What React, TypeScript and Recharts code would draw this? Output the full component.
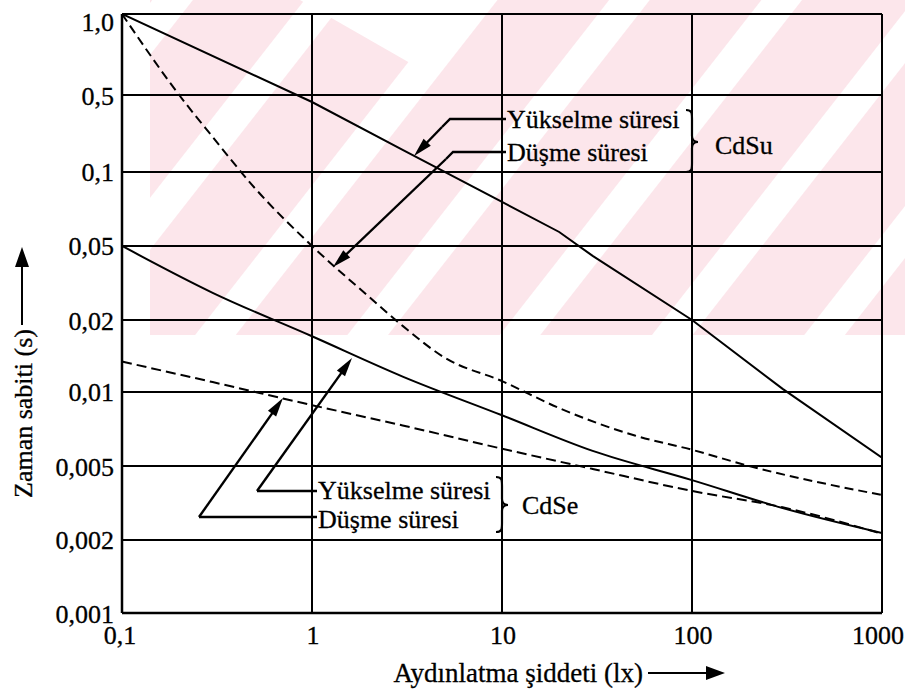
import React from "react";
import { LineChart, Line, XAxis, YAxis, CartesianGrid } from "recharts";

// ---- axis ticks ----
const xTicks = [0.1, 1, 10, 100, 1000];
const xTickLabels = ["0,1", "1", "10", "100", "1000"];
const yTickValues = [1.0, 0.5, 0.1, 0.05, 0.02, 0.01, 0.005, 0.002, 0.001];
const yTickLabels = ["1,0", "0,5", "0,1", "0,05", "0,02", "0,01", "0,005", "0,002", "0,001"];
// printed (schematic) position of each labelled value on the y axis, 0 = top, 8 = bottom
const yTickPositions = [0, 1.082, 2.11, 3.098, 4.087, 5.048, 6.037, 7.025, 8];

// ---- series (lux, seconds) ----
const cdsuRiseLux = [0.1, 1, 3, 10, 20, 30, 100, 300, 1000];
const cdsuRiseSec = [1.0, 0.432, 0.159, 0.0755, 0.057, 0.0442, 0.02, 0.0103, 0.0054];

const cdsuFallLux = [0.1, 0.2, 0.3, 0.5, 1, 2, 3, 5, 10, 20, 50, 100, 200, 1000];
const cdsuFallSec = [1.0, 0.5, 0.208, 0.086, 0.05, 0.0266, 0.0189, 0.0139, 0.0111, 0.0086, 0.00665, 0.00582, 0.005, 0.00349];

const cdseRiseLux = [0.1, 0.3, 1, 3, 10, 30, 100, 300, 1000];
const cdseRiseSec = [0.05, 0.028, 0.0171, 0.0116, 0.00804, 0.00576, 0.0042, 0.00297, 0.00218];

const cdseFallLux = [0.1, 0.3, 1, 3, 10, 30, 100, 300, 1000];
const cdseFallSec = [0.0134, 0.011, 0.00884, 0.00731, 0.00588, 0.00482, 0.00367, 0.003, 0.00216];

// Map a value onto the schematic y axis (piecewise logarithmic between labelled values).
function toAxisPos(v: number): number {
  for (let i = 0; i < yTickValues.length - 1; i++) {
    const a = yTickValues[i];
    const b = yTickValues[i + 1];
    if (v <= a && v >= b) {
      const f = Math.log(v / a) / Math.log(b / a);
      return yTickPositions[i] + f * (yTickPositions[i + 1] - yTickPositions[i]);
    }
  }
  return v > yTickValues[0] ? 0 : yTickPositions[yTickPositions.length - 1];
}

function build(lux: number[], sec: number[]) {
  return lux.map((l, i) => ({ lux: l, sec: sec[i], pos: toAxisPos(sec[i]) }));
}

const FONT = '"Liberation Serif", "Times New Roman", Times, serif';

const YTick = (props: any) => {
  const { x, y, payload } = props;
  const i = yTickPositions.indexOf(payload.value);
  return (
    <text x={x} y={y + (i === 0 ? 8 : 1)} textAnchor="end" dominantBaseline="central"
      fontFamily={FONT} fontSize={26} fill="#000" stroke="#000" strokeWidth={0.3}>
      {i >= 0 ? yTickLabels[i] : ""}
    </text>
  );
};

const XTick = (props: any) => {
  const { x, y, payload } = props;
  const i = xTicks.indexOf(payload.value);
  const shift = payload.value === 1000 ? -4 : payload.value === 0.1 ? -2 : 1;
  return (
    <text x={x + shift} y={y} dy="0.71em" textAnchor="middle"
      fontFamily={FONT} fontSize={26} fill="#000" stroke="#000" strokeWidth={0.3}>
      {i >= 0 ? xTickLabels[i] : ""}
    </text>
  );
};

function arrow(x0: number, y0: number, tx: number, ty: number, key: string) {
  const dx = tx - x0, dy = ty - y0;
  const len = Math.sqrt(dx * dx + dy * dy);
  const ux = dx / len, uy = dy / len;
  const L = 19, W = 10;
  const bx = tx - ux * L, by = ty - uy * L;
  const nx = -uy, ny = ux;
  return (
    <g key={key}>
      <line x1={x0} y1={y0} x2={bx + ux * 2} y2={by + uy * 2} stroke="#000" strokeWidth={2.4} />
      <polygon points={`${tx},${ty} ${bx + nx * W / 2},${by + ny * W / 2} ${bx - nx * W / 2},${by - ny * W / 2}`} fill="#000" />
    </g>
  );
}

function brace(x: number, y1: number, y2: number, ym: number, w: number) {
  const h = x + w * 0.5;
  const d = `M ${x} ${y1} C ${x + w * 0.5} ${y1} ${h} ${y1 + 3} ${h} ${y1 + 9} L ${h} ${ym - 6} C ${h} ${ym - 2} ${x + w * 0.7} ${ym} ${x + w} ${ym} C ${x + w * 0.7} ${ym} ${h} ${ym + 2} ${h} ${ym + 6} L ${h} ${y2 - 9} C ${h} ${y2 - 3} ${x + w * 0.5} ${y2} ${x} ${y2}`;
  return <path d={d} fill="none" stroke="#000" strokeWidth={2.2} />;
}

const Watermark = () => (
  <svg width={905} height={691} style={{ position: "absolute", left: 0, top: 0 }}>
    <defs>
      <pattern id="wm" patternUnits="userSpaceOnUse" width={120} height={120} patternTransform="rotate(38)">
        <rect x={0} y={0} width={120} height={120} fill="#fce6eb" />
        <rect x={0} y={0} width={32} height={120} fill="#ffffff" />
      </pattern>
      <clipPath id="wmclip">
        <rect x={150} y={0} width={755} height={335} />
      </clipPath>
    </defs>
    <rect x={150} y={0} width={755} height={335} fill="url(#wm)" clipPath="url(#wmclip)" />
    <polygon points="300,0 410,63 490,0" fill="#ffffff" />
  </svg>
);

const Overlay = () => (
  <svg width={905} height={691} style={{ position: "absolute", left: 0, top: 0, pointerEvents: "none" }}>
    <g fontFamily={FONT} fontSize={26} fill="#000" stroke="#000" strokeWidth={0.3}>
      <text x={507} y={128}>Yükselme süresi</text>
      <text x={507} y={161}>Düşme süresi</text>
      <text x={715} y={154}>CdSu</text>
      <text x={318} y={499}>Yükselme süresi</text>
      <text x={318} y={528}>Düşme süresi</text>
      <text x={522} y={514}>CdSe</text>
      <text x={643} y={682} textAnchor="end" fontSize={27}>Aydınlatma şiddeti (lx)</text>
      <text transform="translate(32, 498) rotate(-90)" textAnchor="start">Zaman sabiti (s)</text>
    </g>
    <g>
      {/* CdSu annotation */}
      <polyline points="506,119 450,119 442,127" fill="none" stroke="#000" strokeWidth={2.4} />
      {arrow(442, 127, 414, 156, "a1")}
      <polyline points="506,152 453,152 446,159" fill="none" stroke="#000" strokeWidth={2.4} />
      {arrow(446, 159, 333, 267, "a2")}
      {brace(686, 110, 172, 142, 12)}

      {/* CdSe annotation */}
      <polyline points="317,491 257,491" fill="none" stroke="#000" strokeWidth={2.4} />
      {arrow(257, 491, 352, 358, "a3")}
      <polyline points="317,517 199,517" fill="none" stroke="#000" strokeWidth={2.4} />
      {arrow(199, 517, 283, 398, "a4")}
      {brace(496, 477, 532, 505, 12)}

      {/* axis title arrows */}
      <line x1={648} y1={673} x2={708} y2={673} stroke="#000" strokeWidth={2} />
      <polygon points="725,673 706,666 706,680" fill="#000" />
      <line x1={22} y1={325} x2={22} y2={264} stroke="#000" strokeWidth={2} />
      <polygon points="22,247 15,267 29,267" fill="#000" />
    </g>
  </svg>
);

export default function App() {
  const s1 = build(cdsuRiseLux, cdsuRiseSec);
  const s2 = build(cdsuFallLux, cdsuFallSec);
  const s3 = build(cdseRiseLux, cdseRiseSec);
  const s4 = build(cdseFallLux, cdseFallSec);
  return (
    <div style={{ position: "absolute", left: 0, top: 0, width: 905, height: 691, background: "#fff", overflow: "hidden" }}>
      <Watermark />
      <div style={{ position: "absolute", left: 0, top: 0 }}>
        <LineChart width={905} height={691} margin={{ top: 14, right: 23, left: 0, bottom: 0 }}>
          <CartesianGrid stroke="#000" strokeWidth={2} strokeOpacity={1} />
          <XAxis
            dataKey="lux"
            type="number"
            scale="log"
            domain={[0.1, 1000]}
            ticks={xTicks}
            allowDataOverflow
            height={78}
            tickLine={false}
            tickMargin={7}
            axisLine={{ stroke: "#000", strokeWidth: 2.5 }}
            tick={<XTick />}
            interval={0}
          />
          <YAxis
            dataKey="pos"
            type="number"
            domain={[0, 8]}
            ticks={yTickPositions}
            reversed
            width={122}
            tickLine={false}
            axisLine={{ stroke: "#000", strokeWidth: 2.5 }}
            tick={<YTick />}
            interval={0}
          />
          <Line data={s1} dataKey="pos" type="linear" stroke="#000" strokeWidth={2} dot={false} isAnimationActive={false} />
          <Line data={s2} dataKey="pos" type="monotone" stroke="#000" strokeWidth={2} strokeDasharray="9 5" dot={false} isAnimationActive={false} />
          <Line data={s3} dataKey="pos" type="monotone" stroke="#000" strokeWidth={2} dot={false} isAnimationActive={false} />
          <Line data={s4} dataKey="pos" type="monotone" stroke="#000" strokeWidth={2} strokeDasharray="10 5" dot={false} isAnimationActive={false} />
        </LineChart>
      </div>
      <Overlay />
    </div>
  );
}
